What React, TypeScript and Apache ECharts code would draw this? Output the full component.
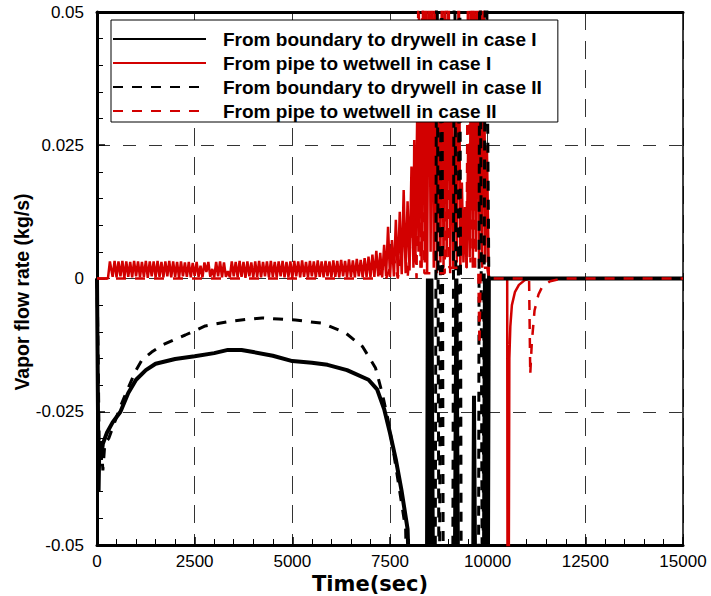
import React, { useEffect, useRef } from "react";
import * as echarts from "echarts";

const FONT = "'Liberation Sans', Arial, Helvetica, sans-serif";
const RED = "#d20000";

const seriesNames = [
  "From boundary to drywell in case I",
  "From pipe to wetwell in case I",
  "From boundary to drywell in case II",
  "From pipe to wetwell in case II",
];

const xTitle = "Time(sec)";
const yTitle = "Vapor flow rate (kg/s)";
const xTicks = { min: 0, max: 15000, interval: 2500 };
const yTicks = { min: -0.05, max: 0.05, interval: 0.025 };

// Case I: from boundary to drywell (black solid)
const boundaryCaseI: [number, number][] = [
  [0, 0], [20, -0.02], [40, -0.04], [60, -0.031], [100, -0.034], [150, -0.031],
  [250, -0.029], [400, -0.027], [600, -0.025], [800, -0.0215], [1000, -0.019],
  [1250, -0.0172], [1500, -0.016], [2000, -0.0151], [2500, -0.0146], [3000, -0.014],
  [3350, -0.0134], [3700, -0.0134], [4000, -0.0138], [4500, -0.0145], [5000, -0.0155],
  [5500, -0.0158], [5900, -0.0162], [6400, -0.0172], [6950, -0.019], [7170, -0.0208],
  [7350, -0.0245], [7500, -0.029], [7650, -0.034], [7800, -0.040], [7950, -0.047],
  [8050, -0.07], [8440, -0.07], [8470, 0], [8510, -0.07], [8560, 0], [8610, -0.07],
  [9150, -0.07], [9200, 0], [9250, -0.07], [9620, -0.07], [9650, -0.022], [9690, -0.07],
  [9900, -0.07], [9930, 0], [9970, -0.07], [10000, -0.07], [10030, 0], [15000, 0],
];

// Case I: from pipe to wetwell (red solid)
const pipeCaseI: [number, number][] = [
  [0, 0], [280, 0], [330, 0.0032],
  [400, 0.0003], [450, 0.0033], [500, 0.0002], [550, 0.0032], [600, 0.0004], [650, 0.0033],
  [700, 0.0001], [750, 0.0032], [800, 0.0003], [850, 0.0031], [900, 0.0002], [950, 0.0033],
  [1000, 0.0004], [1050, 0.0032], [1100, 0.0002], [1150, 0.0031], [1200, 0.0003], [1250, 0.0033],
  [1300, 0.0001], [1350, 0.0032], [1400, 0.0004], [1450, 0.0032], [1500, 0.0002], [1550, 0.0033],
  [1600, 0.0003], [1650, 0.0031], [1700, 0.0002], [1750, 0.0032], [1800, 0.0004], [1850, 0.0033],
  [1900, 0.0002], [1950, 0.0032], [2000, 0.0003], [2050, 0.0031], [2100, 0.0001], [2150, 0.0032],
  [2200, 0.0004], [2250, 0.003], [2300, 0.0003], [2350, 0.0031], [2400, 0.0002], [2450, 0.0029],
  [2500, 0.0005], [2550, 0.0031], [2600, 0.0003], [2650, 0.0024], [2700, 0.0002], [2750, 0.003],
  [2800, 0.0012], [2850, 0.0031], [2900, 0.0003], [2950, 0.0018], [3000, 0.0002], [3050, 0.0031],
  [3100, 0.0004], [3150, 0.0032], [3200, 0.0002], [3250, 0.003], [3300, 0.0003], [3350, 0.0014],
  [3400, 0.0002], [3450, 0.0032], [3500, 0.0004], [3550, 0.0031], [3600, 0.0002], [3650, 0.0033],
  [3700, 0.0003], [3750, 0.0031], [3800, 0.0001], [3850, 0.0032], [3900, 0.0004], [3950, 0.003],
  [4000, 0.0002], [4050, 0.0032], [4100, 0.0003], [4150, 0.0033], [4200, 0.0002], [4250, 0.0031],
  [4300, 0.0004], [4350, 0.0032], [4400, 0.0002], [4450, 0.0033], [4500, 0.0003], [4550, 0.0031],
  [4600, 0.0002], [4650, 0.0032], [4700, 0.0004], [4750, 0.0033], [4800, 0.0002], [4850, 0.0031],
  [4900, 0.0003], [4950, 0.0032], [5000, 0.0001], [5050, 0.0033], [5100, 0.0004], [5150, 0.0032],
  [5200, 0.0002], [5250, 0.0034], [5300, 0.0003], [5350, 0.0031], [5400, 0.0002], [5450, 0.0033],
  [5500, 0.0004], [5550, 0.0032], [5600, 0.0002], [5650, 0.0034], [5700, 0.0003], [5750, 0.0032],
  [5800, 0.0002], [5850, 0.0033], [5900, 0.0004], [5950, 0.0032], [6000, 0.0002], [6050, 0.0034],
  [6100, 0.0003], [6150, 0.0033], [6200, 0.0002], [6250, 0.0035], [6300, 0.0004], [6350, 0.0033],
  [6400, 0.0002], [6450, 0.0036], [6500, 0.0003], [6550, 0.0034], [6600, 0.0002], [6650, 0.0037],
  [6700, 0.0004], [6750, 0.0035], [6800, 0.0002], [6850, 0.0038], [6900, 0.0003], [6950, 0.0041],
  [7000, 0.0002], [7050, 0.0045], [7100, 0.0003], [7150, 0.0052], [7200, 0.0004], [7250, 0.0048],
  [7300, 0.0002], [7350, 0.0063], [7400, 0.0005], [7450, 0.0097], [7500, 0.0003], [7550, 0.0072],
  [7600, 0.0004], [7650, 0.011], [7700, 0.0006], [7750, 0.0125], [7800, 0.0008], [7850, 0.0166],
  [7900, 0.001], [7950, 0.0145], [8000, 0.0015], [8050, 0.021], [8100, 0.002], [8120, 0.026],
  [8150, 0.003], [8200, 0.033], [8230, 0.005], [8280, 0.042], [8310, 0.002], [8350, 0.06],
  [8390, 0.003], [8420, 0.06], [8450, 0.001], [8500, 0.06], [8540, 0.005], [8580, 0.06],
  [8620, 0.002], [8660, 0.06], [8700, 0.001], [8750, 0.038], [8790, 0.003], [8830, 0.06],
  [8870, 0.002], [8910, 0.06], [8950, 0.004], [9000, 0.06], [9040, 0.001], [9080, 0.045],
  [9120, 0.002], [9170, 0.03], [9210, 0.003], [9260, 0.06], [9300, 0.002], [9340, 0.018],
  [9380, 0.003], [9420, 0.0134], [9460, 0.002], [9500, 0.025], [9540, 0.004], [9580, 0.06],
  [9620, 0.002], [9660, 0.06], [9700, 0.005], [9740, 0.06], [9780, 0.003], [9820, 0.06],
  [9860, 0.002], [9900, 0.06], [9940, 0.003], [9980, 0.025], [10030, 0], [10500, 0],
  [10510, -0.07], [10535, -0.07], [10555, -0.015], [10580, -0.009], [10620, -0.005],
  [10700, -0.0025], [10800, -0.0012], [10950, -0.0003], [11100, 0], [15000, 0],
];

// Case II: from boundary to drywell (black dashed)
const boundaryCaseII: [number, number][] = [
  [0, 0], [30, -0.015], [60, -0.034], [100, -0.03], [150, -0.036], [200, -0.031],
  [300, -0.03], [450, -0.027], [600, -0.024], [800, -0.0205], [1000, -0.0172],
  [1150, -0.0153], [1400, -0.0138], [1670, -0.0125], [2000, -0.0114], [2260, -0.0106],
  [2770, -0.0089], [3360, -0.0081], [3800, -0.0077], [4230, -0.0074], [4650, -0.0076],
  [5080, -0.0078], [5770, -0.0084], [6360, -0.0102], [6800, -0.0128], [7130, -0.0168],
  [7300, -0.0215], [7450, -0.0265], [7600, -0.033], [7750, -0.04], [7900, -0.047],
  [8000, -0.08], [8650, -0.08], [8700, 0.08], [8760, -0.08], [8820, 0.08], [8870, -0.08],
  [9100, -0.08], [9150, 0.08], [9220, -0.08], [9280, 0.08], [9330, -0.08],
  [9760, -0.08], [9800, 0.08], [9870, -0.08], [9950, 0.08], [10030, 0], [15000, 0],
];

// Case II: from pipe to wetwell (red dashed)
const pipeCaseII: [number, number][] = [
  [0, 0], [7200, 0], [7300, 0.002], [7400, 0], [7600, 0.004], [7700, 0], [7850, 0.008],
  [7950, 0], [8100, 0.015], [8180, 0], [8230, 0.06], [8280, 0.002], [8330, 0.06],
  [8380, 0.001], [8900, 0.001], [8960, 0.06], [9020, 0.002], [9460, 0.002], [9500, 0.06],
  [9560, 0.003], [9620, 0.06], [9680, 0.002], [9760, 0.002], [9790, -0.0125], [9820, 0.002],
  [9990, 0.002], [10030, 0], [11060, 0], [11090, -0.018], [11130, -0.012], [11200, -0.006],
  [11300, -0.003], [11400, -0.0015], [11600, -0.0005], [11900, 0], [15000, 0],
];

export default function App() {
  const ref = useRef<HTMLDivElement>(null);
  useEffect(() => {
    const chart = echarts.init(ref.current!, null, { renderer: "svg" });
    const lineSeries = (name: string, data: [number, number][], color: string, width: number, dashed: boolean, z: number) => ({
      name,
      type: "line",
      data,
      symbol: "none",
      showSymbol: false,
      silent: true,
      z,
      clip: true,
      lineStyle: { color, width, type: dashed ? [10, 9] : "solid" },
      itemStyle: { color },
    });
    const plainLabel = (v: number) => String(Math.round(v * 100000) / 100000);
    chart.setOption({
      animation: false,
      backgroundColor: "#fff",
      textStyle: { fontFamily: FONT },
      grid: { left: 97, right: 28, top: 12, bottom: 51, containLabel: false },
      legend: {
        show: true,
        orient: "vertical",
        left: 111,
        top: 20,
        backgroundColor: "#fff",
        borderColor: "#000",
        borderWidth: 1,
        borderRadius: 0,
        padding: [9, 16, 1, 1],
        itemWidth: 93,
        itemHeight: 14,
        itemGap: 4,
        selectedMode: false,
        data: seriesNames,
        itemStyle: { opacity: 0, color: "rgba(0,0,0,0)", borderWidth: 0 },
        textStyle: { fontSize: 19, fontWeight: "bold", color: "#000", fontFamily: FONT, lineHeight: 20, padding: [0, 0, 0, 12] },
        z: 10,
      },
      graphic: [
        {
          type: "text",
          x: 22,
          y: 292,
          rotation: Math.PI / 2,
          silent: true,
          style: {
            text: yTitle,
            fill: "#000",
            font: "bold 19.5px 'Liberation Sans', Arial, sans-serif",
            textAlign: "center",
            textVerticalAlign: "middle",
          },
        },
        {
          type: "text",
          x: 370,
          y: 584,
          silent: true,
          style: {
            text: xTitle,
            fill: "#000",
            font: "bold 21px 'DejaVu Sans', sans-serif",
            textAlign: "center",
            textVerticalAlign: "middle",
          },
        },
      ],
      xAxis: [
        {
          type: "value",
          min: xTicks.min,
          max: xTicks.max,
          interval: xTicks.interval,
          axisLine: { show: true, onZero: false, lineStyle: { color: "#000", width: 3 } },
          axisTick: { show: true, inside: true, length: 8, lineStyle: { color: "#000", width: 1.5 } },
          minorTick: { show: true, splitNumber: 5, length: 6, lineStyle: { color: "#000", width: 1 } },
          axisLabel: { color: "#000", fontSize: 17, margin: 8, fontFamily: FONT, formatter: plainLabel },
          splitLine: { show: true, lineStyle: { color: "#333", width: 1, type: [18, 11] } },
        },
        {
          type: "value",
          position: "top",
          min: xTicks.min,
          max: xTicks.max,
          axisLine: { show: true, onZero: false, lineStyle: { color: "#000", width: 3 } },
          axisTick: { show: false },
          axisLabel: { show: false },
          splitLine: { show: false },
        },
      ],
      yAxis: [
        {
          type: "value",
          min: yTicks.min,
          max: yTicks.max,
          interval: yTicks.interval,
          axisLine: { show: true, onZero: false, lineStyle: { color: "#000", width: 3 } },
          axisTick: { show: true, inside: true, length: 8, lineStyle: { color: "#000", width: 1.5 } },
          minorTick: { show: true, splitNumber: 5, length: 6, lineStyle: { color: "#000", width: 1 } },
          axisLabel: { color: "#000", fontSize: 17, margin: 13, fontFamily: FONT, formatter: plainLabel },
          splitLine: { show: true, lineStyle: { color: "#333", width: 1, type: [13, 13] } },
        },
        {
          type: "value",
          position: "right",
          min: yTicks.min,
          max: yTicks.max,
          axisLine: { show: true, onZero: false, lineStyle: { color: "#000", width: 1.5 } },
          axisTick: { show: false },
          axisLabel: { show: false },
          splitLine: { show: false },
        },
      ],
      series: [
        lineSeries(seriesNames[1], pipeCaseI, RED, 2.5, false, 2),
        lineSeries(seriesNames[0], boundaryCaseI, "#000", 4, false, 3),
        lineSeries(seriesNames[2], boundaryCaseII, "#000", 3, true, 4),
        lineSeries(seriesNames[3], pipeCaseII, RED, 2.5, true, 5),
      ],
    });
    return () => chart.dispose();
  }, []);
  return (
    <div
      ref={ref}
      style={{ position: "fixed", left: 0, top: 0, width: 711, height: 596, background: "#fff" }}
    />
  );
}
